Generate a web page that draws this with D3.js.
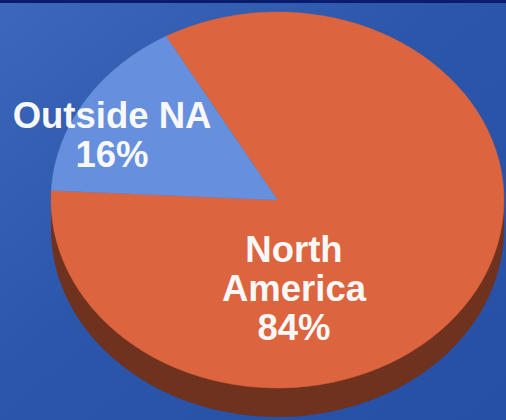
<!DOCTYPE html>
<html><head><meta charset="utf-8">
<script src="https://cdn.jsdelivr.net/npm/d3@7"></script>
<style>html,body{margin:0;padding:0;overflow:hidden;background:#2a53a8}</style>
</head><body>
<script>
const categories = ["North America", "Outside NA"];
const values = [84, 16];
const labelLines = [["North", "America", "84%"], ["Outside NA", "16%"]];

const W = 506, H = 420;
const topColors = ["#dc643e", "#6690de"];
const sideColors = ["#6e321f", "#2f4a8a"];

const svg = d3.select("body").append("svg").attr("width", W).attr("height", H);
const defs = svg.append("defs");
const bg = defs.append("linearGradient").attr("id","bg").attr("x1","0").attr("y1","0").attr("x2","1").attr("y2","1");
bg.append("stop").attr("offset","0").attr("stop-color","#3c67ba");
bg.append("stop").attr("offset","0.45").attr("stop-color","#2c56aa");
bg.append("stop").attr("offset","1").attr("stop-color","#2650a6");
svg.append("rect").attr("width",W).attr("height",H).attr("fill","url(#bg)");
svg.append("rect").attr("width",W).attr("height",3).attr("fill","#0b1c6c");

const cx = 277.5, cy = 200, rx = 226.5, ry = 188, depth = 29;
const startDeg = -29.5;
const pie = d3.pie().sort(null).value(d => d)
  .startAngle(startDeg * Math.PI / 180)
  .endAngle(startDeg * Math.PI / 180 + 2 * Math.PI);
const arcs = pie(values);
const arc = d3.arc().innerRadius(0).outerRadius(rx);

const root = svg.append("g").attr("transform", `translate(${cx},${cy})`);
// side (extrusion): bottom face + connecting band
root.append("rect").attr("x", -rx).attr("y", 0).attr("width", 2 * rx).attr("height", depth)
  .attr("fill", sideColors[0]);
root.append("g").attr("transform", `translate(0,${depth}) scale(1,${ry/rx})`)
  .selectAll("path").data(arcs).join("path")
  .attr("d", arc).attr("fill", sideColors[0]);
// top face
root.append("g").attr("transform", `scale(1,${ry/rx})`)
  .selectAll("path").data(arcs).join("path")
  .attr("d", arc).attr("fill", (d,i) => topColors[i])
  .attr("stroke", (d,i) => topColors[i]).attr("stroke-width", 0.5);

// labels
const labelPos = [[294, 262], [112, 128]];
const lineH = 39;
labelLines.forEach((lines, i) => {
  const t = svg.append("text")
    .attr("x", labelPos[i][0]).attr("y", labelPos[i][1])
    .attr("text-anchor", "middle")
    .attr("font-family", "Liberation Sans, Arial, sans-serif")
    .attr("font-weight", "bold").attr("font-size", 36.5)
    .attr("fill", "#f8f8f8");
  lines.forEach((s, j) => {
    t.append("tspan").attr("x", labelPos[i][0]).attr("y", labelPos[i][1] + j * lineH).text(s);
  });
});
</script>
</body></html>
